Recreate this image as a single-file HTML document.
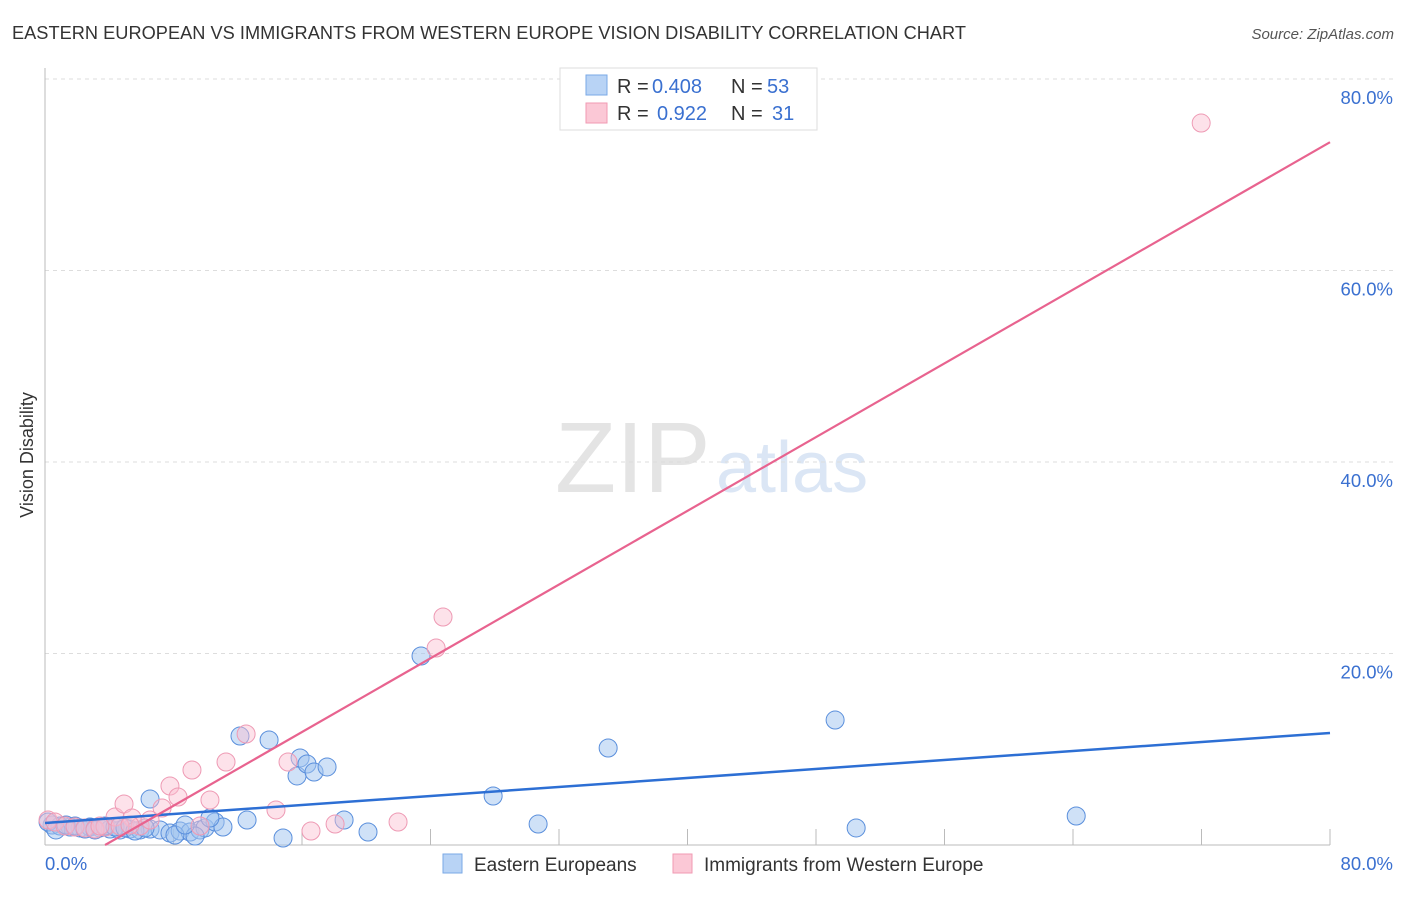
<!DOCTYPE html>
<html><head><meta charset="utf-8"><style>
body{margin:0;background:#fff;font-family:"Liberation Sans",sans-serif}
svg text{font-family:"Liberation Sans",sans-serif}
</style></head><body>
<svg width="1406" height="892" xmlns="http://www.w3.org/2000/svg">
<text x="12" y="39" font-size="18.2" fill="#333" textLength="954">EASTERN EUROPEAN VS IMMIGRANTS FROM WESTERN EUROPE VISION DISABILITY CORRELATION CHART</text>
<text x="1394" y="39" font-size="15" fill="#555" font-style="italic" text-anchor="end">Source: ZipAtlas.com</text>
<g>
<text x="555" y="492" font-size="100" fill="#e4e4e4" font-family="Liberation Serif,serif">ZIP</text>
<text x="716" y="492" font-size="72" fill="#dbe6f5">atlas</text>
</g>
<g id="grid"></g>
<g id="axes"></g>
<g id="marks"></g>
<text transform="translate(33,455) rotate(-90)" font-size="18" fill="#333" text-anchor="middle">Vision Disability</text>
<g>
<rect x="560" y="68" width="257" height="62" fill="#fff" stroke="#ddd"/>
<rect x="586" y="75" width="21" height="20" fill="#b8d3f5" stroke="#7aa8e6"/>
<rect x="586" y="103" width="21" height="20" fill="#fbc8d6" stroke="#f09ab3"/>
<text x="617" y="93" font-size="20" fill="#333">R =</text>
<text x="652" y="93" font-size="20" fill="#3a70d0">0.408</text>
<text x="731" y="93" font-size="20" fill="#333">N =</text>
<text x="767" y="93" font-size="20" fill="#3a70d0">53</text>
<text x="617" y="120" font-size="20" fill="#333">R =</text>
<text x="657" y="120" font-size="20" fill="#3a70d0">0.922</text>
<text x="731" y="120" font-size="20" fill="#333">N =</text>
<text x="772" y="120" font-size="20" fill="#3a70d0">31</text>
</g>
<g>
<rect x="443" y="854" width="19" height="19" fill="#b8d3f5" stroke="#7aa8e6"/>
<text x="474" y="871" font-size="19" fill="#333">Eastern Europeans</text>
<rect x="673" y="854" width="19" height="19" fill="#fbc8d6" stroke="#f09ab3"/>
<text x="704" y="871" font-size="19" fill="#333">Immigrants from Western Europe</text>
</g>
</svg>
<script>
const blueX=[0.44,0.93,1.56,2.18,2.80,3.42,4.05,4.67,5.29,5.92,6.54,7.16,7.78,8.41,9.03,9.65,9.96,10.59,11.08,6.54,12.14,12.58,13.95,14.82,15.69,15.88,16.31,16.75,17.56,18.62,20.11,23.41,27.90,30.70,35.06,49.19,50.50,64.20,0.19,0.68,1.31,1.87,2.49,3.11,3.74,4.36,4.98,5.60,6.23,8.09,9.34,8.72,10.27];
const blueY=[2.09,1.98,1.88,1.78,1.88,1.78,1.67,1.57,1.67,1.57,1.67,1.57,1.25,1.46,1.36,1.57,1.78,2.40,1.88,4.80,11.38,2.61,10.97,0.73,7.21,9.09,8.46,7.62,8.15,2.61,1.36,19.74,5.12,2.19,10.13,13.05,1.78,3.03,2.40,1.57,2.09,1.98,1.67,1.57,1.98,1.88,1.78,1.46,1.78,1.04,0.94,2.09,2.82];
const pinkX=[0.19,0.62,1.25,1.87,2.49,3.11,3.74,4.36,4.92,5.42,5.92,6.54,7.29,7.78,8.28,9.15,10.27,11.27,12.52,14.38,15.13,16.56,18.06,21.98,24.35,24.78,71.98,3.42,4.67,5.29,9.65];
const pinkY=[2.61,2.40,1.98,1.88,1.78,1.67,1.88,2.92,4.28,2.82,1.98,2.61,3.86,6.16,5.01,7.83,4.70,8.67,11.59,3.66,8.67,1.46,2.19,2.40,20.57,23.81,75.40,1.98,1.98,2.09,1.98];
const blueTrend=[2.3,11.7];
const pinkTrend=[-3.6,0.9625];
const yTicks=[20,40,60,80];
const yTickLabels=["20.0%","40.0%","60.0%","80.0%"];
const xTicks=[8,16,24,32,40,48,56,64,72,80];
const NS="http://www.w3.org/2000/svg";
const X=v=>45+v/80*1285, Y=v=>845-v/80*766;
function mk(p,t,a){const e=document.createElementNS(NS,t);for(const k in a)e.setAttribute(k,a[k]);p.appendChild(e);return e;}
const grid=document.getElementById('grid'),axes=document.getElementById('axes'),marks=document.getElementById('marks');
yTicks.forEach((v,i)=>{
 const l=mk(grid,'line',{x1:45,x2:1394,y1:Y(v),y2:Y(v),stroke:'#ddd','stroke-dasharray':'4,4'});
 
 
 const t=mk(axes,'text',{x:1393,y:Y(v)+25,'font-size':18.5,fill:'#3a70d0','text-anchor':'end'});
 t.textContent=yTickLabels[i];
 
 
});
mk(axes,'line',{x1:45,x2:45,y1:68,y2:845,stroke:'#bbb'});
mk(axes,'line',{x1:45,x2:1330,y1:845,y2:845,stroke:'#bbb'});
xTicks.forEach(v=>{const l=mk(axes,'line',{x1:X(v),x2:X(v),y1:845,y2:829,stroke:'#bbb'});
 
 });
let t=mk(axes,'text',{x:45,y:870,'font-size':18.5,fill:'#3a70d0'});t.textContent='0.0%';


t=mk(axes,'text',{x:1393,y:870,'font-size':18.5,fill:'#3a70d0','text-anchor':'end'});t.textContent='80.0%';


blueX.forEach((x,i)=>{const c=mk(marks,'circle',{cx:X(x),cy:Y(blueY[i]),r:9,fill:'rgba(160,196,240,0.5)',stroke:'#5a8fdc','stroke-width':1});
 
 });
pinkX.forEach((x,i)=>{const c=mk(marks,'circle',{cx:X(x),cy:Y(pinkY[i]),r:9,fill:'rgba(250,190,208,0.45)',stroke:'#ee9ab4','stroke-width':1});
 
 });
let l=mk(marks,'line',{x1:X(0),y1:Y(blueTrend[0]),x2:X(80),y2:Y(blueTrend[1]),stroke:'#2d6fd4','stroke-width':2.5});


const px0=-pinkTrend[0]/pinkTrend[1];
l=mk(marks,'line',{x1:X(px0),y1:Y(0),x2:X(80),y2:Y(pinkTrend[0]+pinkTrend[1]*80),stroke:'#e8638f','stroke-width':2.2});


</script>
</body></html>
